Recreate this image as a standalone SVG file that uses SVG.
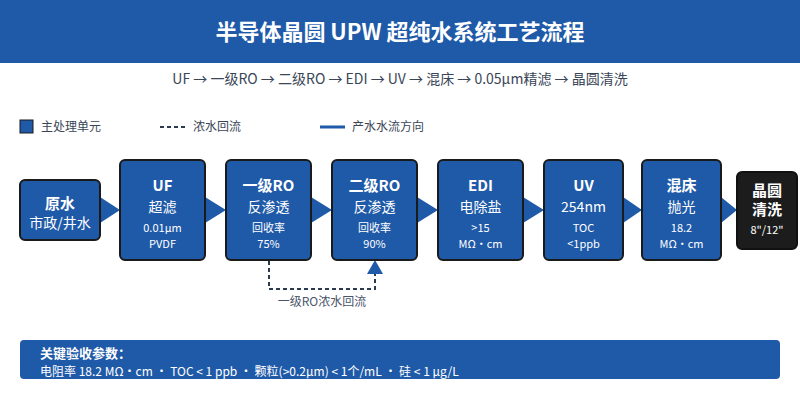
<svg xmlns="http://www.w3.org/2000/svg" width="800" height="400" viewBox="0 0 800 400">
<style>
text{font-family:"Noto Sans CJK SC","Noto Sans",sans-serif}
.node{fill:#1f5aa8;stroke:#1a1a1a;stroke-width:2}
.dark{fill:#1c1c1c;stroke:#111;stroke-width:2}
.t{fill:#fff;font-weight:700;font-size:15px;text-anchor:middle}
.s{fill:#fff;font-size:14px;text-anchor:middle}
.d{fill:#fff;font-size:11px;text-anchor:middle}
.leg{fill:#3a4657;font-size:12px}
.arr{fill:#1f5aa8}
.dash{fill:none;stroke:#2b3a4f;stroke-width:2;stroke-dasharray:4 3}
</style>
<rect width="800" height="400" fill="#fff"/>
<rect x="0" y="0" width="800" height="63" fill="#1f5aa8"/>
<text x="400" y="40" text-anchor="middle" fill="#fff" font-size="22" font-weight="700">半导体晶圆 UPW 超纯水系统工艺流程</text>
<text x="400" y="84" text-anchor="middle" fill="#3a4657" font-size="14">UF → 一级RO → 二级RO → EDI → UV → 混床 → 0.05μm精滤 → 晶圆清洗</text>

<g id="legend">
<rect x="20" y="120" width="13" height="13" fill="#1f5aa8" stroke="#1a1a1a" stroke-width="1"/>
<text class="leg" x="41" y="131">主处理单元</text>
<line x1="160" y1="127" x2="185" y2="127" class="dash"/>
<text class="leg" x="193" y="131">浓水回流</text>
<line x1="320" y1="127" x2="345" y2="127" stroke="#1f5aa8" stroke-width="3"/>
<text class="leg" x="352" y="131">产水水流方向</text>
</g>

<g id="connectors">
<polygon class="arr" points="100,197 120,210 100,223"/>
<polygon class="arr" points="205,197 226,210 205,223"/>
<polygon class="arr" points="311,197 332,210 311,223"/>
<polygon class="arr" points="417,197 438,210 417,223"/>
<polygon class="arr" points="523,197 544,210 523,223"/>
<polygon class="arr" points="623,197 642,210 623,223"/>
<polygon class="arr" points="721,197 737,210 721,223"/>
<path class="dash" d="M269,261 V289 H375 V274"/>
<polygon points="367,274 383,274 375,260" fill="#1f5aa8"/>
<text x="322" y="306" text-anchor="middle" fill="#4a5568" font-size="12">一级RO浓水回流</text>
</g>

<g id="n-raw">
<rect class="node" x="20" y="180" width="80" height="60" rx="5"/>
<text class="t" x="60" y="209" font-size="16">原水</text>
<text class="s" x="60" y="228" font-size="13">市政/井水</text>
</g>
<g id="n-uf">
<rect class="node" x="120" y="160" width="85" height="100" rx="5"/>
<text class="t" x="162.5" y="191">UF</text>
<text class="s" x="162.5" y="212">超滤</text>
<text class="d" x="162.5" y="232">0.01μm</text>
<text class="d" x="162.5" y="248">PVDF</text>
</g>
<g id="n-ro1">
<rect class="node" x="226" y="160" width="85" height="100" rx="5"/>
<text class="t" x="268.5" y="191">一级RO</text>
<text class="s" x="268.5" y="212">反渗透</text>
<text class="d" x="268.5" y="232">回收率</text>
<text class="d" x="268.5" y="248">75%</text>
</g>
<g id="n-ro2">
<rect class="node" x="332" y="160" width="85" height="100" rx="5"/>
<text class="t" x="374.5" y="191">二级RO</text>
<text class="s" x="374.5" y="212">反渗透</text>
<text class="d" x="374.5" y="232">回收率</text>
<text class="d" x="374.5" y="248">90%</text>
</g>
<g id="n-edi">
<rect class="node" x="438" y="160" width="85" height="100" rx="5"/>
<text class="t" x="480.5" y="191">EDI</text>
<text class="s" x="480.5" y="212">电除盐</text>
<text class="d" x="480.5" y="232">&gt;15</text>
<text class="d" x="480.5" y="248">MΩ・cm</text>
</g>
<g id="n-uv">
<rect class="node" x="544" y="160" width="79" height="100" rx="5"/>
<text class="t" x="583.5" y="191">UV</text>
<text class="s" x="583.5" y="212">254nm</text>
<text class="d" x="583.5" y="232">TOC</text>
<text class="d" x="583.5" y="248">&lt;1ppb</text>
</g>
<g id="n-mb">
<rect class="node" x="642" y="160" width="79" height="100" rx="5"/>
<text class="t" x="681.5" y="191">混床</text>
<text class="s" x="681.5" y="212">抛光</text>
<text class="d" x="681.5" y="232">18.2</text>
<text class="d" x="681.5" y="248">MΩ・cm</text>
</g>
<g id="n-wafer">
<rect class="dark" x="737" y="172" width="60" height="77" rx="5"/>
<text class="t" x="767" y="196" font-size="12">晶圆</text>
<text class="t" x="767" y="215" font-size="12">清洗</text>
<text class="d" x="767" y="234" font-size="10" fill="#ddd">8"/12"</text>
</g>

<g id="params">
<rect x="20" y="340" width="760" height="39" rx="4" fill="#1f5aa8"/>
<text x="40" y="358" fill="#fff" font-size="13" font-weight="700">关键验收参数：</text>
<text x="40" y="376" fill="#fff" font-size="12">电阻率 18.2 MΩ・cm ・ TOC &lt; 1 ppb ・ 颗粒(&gt;0.2μm) &lt; 1个/mL ・ 硅 &lt; 1 μg/L</text>
</g>
</svg>
